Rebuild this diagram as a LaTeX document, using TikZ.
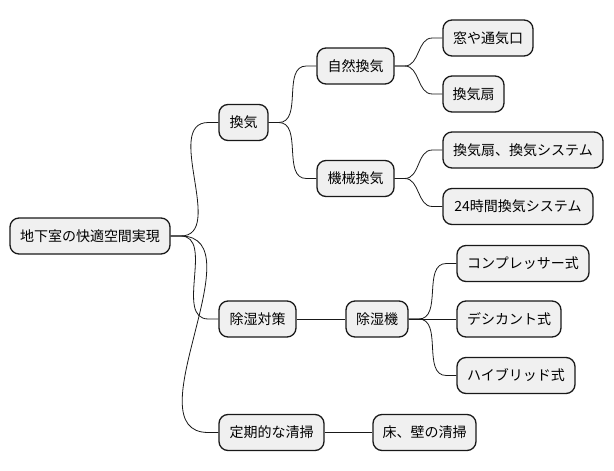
\documentclass[tikz,border=0pt]{standalone}
\usepackage{fontspec}
\setmainfont{Noto Sans CJK JP}
\begin{document}
\begin{tikzpicture}[x=1pt,y=-1pt,
  mnode/.style={draw=black!90,line width=1.3pt,fill=black!6,rounded corners=9pt,
    minimum height=36pt,inner sep=0pt,font=\fontsize{14}{16}\selectfont},
  link/.style={draw=black!90,line width=0.8pt}]
\useasboundingbox (0,0) rectangle (614,471);
\node[mnode,minimum width=160pt] (root) at (90,236) {地下室の快適空間実現};
\node[mnode,minimum width=49pt] (kanki) at (243.5,122.5) {換気};
\node[mnode,minimum width=77pt] (shizen) at (355.5,66) {自然換気};
\node[mnode,minimum width=77pt] (kikai) at (355.5,178.5) {機械換気};
\node[mnode,minimum width=90pt] (mado) at (488,38) {窓や通気口};
\node[mnode,minimum width=61pt] (sen) at (473.5,94) {換気扇};
\node[mnode,minimum width=160pt] (sys) at (523,150) {換気扇、換気システム};
\node[mnode,minimum width=150pt] (h24) at (518,206.5) {24時間換気システム};
\node[mnode,minimum width=77pt] (joshitsu) at (257.5,319) {除湿対策};
\node[mnode,minimum width=62pt] (joshitsuki) at (377,319) {除湿機};
\node[mnode,minimum width=132pt] (comp) at (523,263.5) {コンプレッサー式};
\node[mnode,minimum width=104pt] (desi) at (509,319) {デシカント式};
\node[mnode,minimum width=118pt] (hyb) at (516,375.5) {ハイブリッド式};
\node[mnode,minimum width=105pt] (seiso) at (271.5,432.5) {定期的な清掃};
\node[mnode,minimum width=103pt] (yuka) at (424.5,432.5) {床、壁の清掃};
\foreach \a/\b in {root/kanki,root/joshitsu,root/seiso,kanki/shizen,kanki/kikai,
  shizen/mado,shizen/sen,kikai/sys,kikai/h24,joshitsuki/comp,joshitsuki/hyb}
  \draw[link] (\a.east) -- ++(10,0) to[out=0,in=180] ([xshift=-10pt]\b.west) -- (\b.west);
\draw[link] (joshitsu.east) -- (joshitsuki.west);
\draw[link] (joshitsuki.east) -- (desi.west);
\draw[link] (seiso.east) -- (yuka.west);
\end{tikzpicture}
\end{document}
